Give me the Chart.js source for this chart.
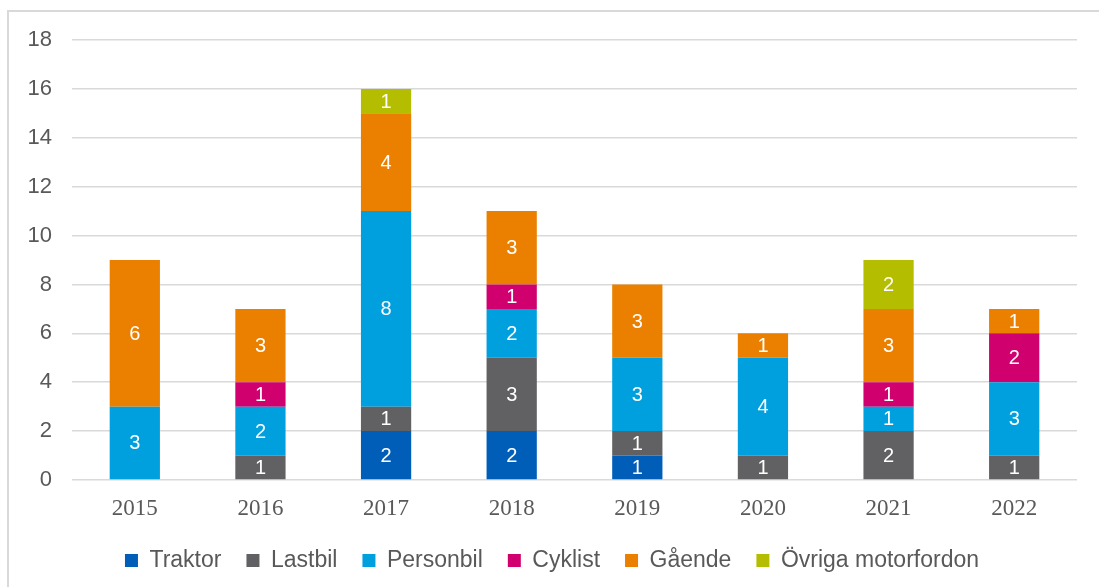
<!DOCTYPE html>
<html>
<head>
<meta charset="utf-8">
<script src="https://cdn.jsdelivr.net/npm/chart.js@4/dist/chart.umd.min.js"></script>
<style>
  html, body { margin: 0; padding: 0; background: #fff; }
  #wrap { width: 1099px; height: 587px; }
</style>
</head>
<body>
<div id="wrap"><canvas id="olyckor" width="1099" height="587"></canvas></div>
<script>
// år och antal per trafikantslag
const years = ['2015', '2016', '2017', '2018', '2019', '2020', '2021', '2022'];
const traktor   = [0, 0, 2, 2, 1, 0, 0, 0];
const lastbil   = [0, 1, 1, 3, 1, 1, 2, 1];
const personbil = [3, 2, 8, 2, 3, 4, 1, 3];
const cyklist   = [0, 1, 0, 1, 0, 0, 1, 2];
const gaende    = [6, 3, 4, 3, 3, 1, 3, 1];
const ovriga    = [0, 0, 1, 0, 0, 0, 2, 0];
const yTicks = [0, 2, 4, 6, 8, 10, 12, 14, 16, 18];

const textGray = '#595959';

// vita siffror mitt i varje stapeldel
const segmentLabels = {
  id: 'segmentLabels',
  afterDatasetsDraw(chart) {
    const ctx = chart.ctx;
    ctx.save();
    ctx.fillStyle = '#ffffff';
    ctx.font = '20px "Liberation Sans", Arial, sans-serif';
    ctx.textAlign = 'center';
    ctx.textBaseline = 'middle';
    chart.data.datasets.forEach((ds, i) => {
      const meta = chart.getDatasetMeta(i);
      if (meta.hidden) return;
      meta.data.forEach((bar, j) => {
        const v = ds.data[j];
        if (!v) return;
        ctx.fillText(String(v), bar.x, (bar.y + bar.base) / 2 + 1);
      });
    });
    ctx.restore();
  }
};

// ljusgrå ram runt diagrammet
const frame = {
  id: 'frame',
  beforeDraw(chart) {
    const ctx = chart.ctx;
    ctx.save();
    ctx.strokeStyle = '#d9d9d9';
    ctx.lineWidth = 2;
    ctx.strokeRect(8, 11, 2000, 2000);
    ctx.restore();
  }
};

const el = document.getElementById('olyckor');

new Chart(el, {
  type: 'bar',
  data: {
    labels: years,
    datasets: [
      { label: 'Traktor', data: traktor, backgroundColor: '#005EB8' },
      { label: 'Lastbil', data: lastbil, backgroundColor: '#616163' },
      { label: 'Personbil', data: personbil, backgroundColor: '#00A0DF' },
      { label: 'Cyklist', data: cyklist, backgroundColor: '#D1006F' },
      { label: 'Gående', data: gaende, backgroundColor: '#EB8000' },
      { label: 'Övriga motorfordon', data: ovriga, backgroundColor: '#B5BD00' }
    ]
  },
  options: {
    responsive: false,
    animation: false,
    layout: { padding: { left: 27, right: 22, top: 40, bottom: 5 } },
    datasets: {
      bar: { barPercentage: 0.4, categoryPercentage: 1.0 }
    },
    scales: {
      x: {
        stacked: true,
        grid: { display: false },
        border: { display: false },
        ticks: {
          color: textGray,
          padding: 7,
          font: { family: '"Liberation Serif", "Times New Roman", serif', size: 23 }
        },
        afterFit(scale) { scale.height = 44; }
      },
      y: {
        stacked: true,
        min: 0,
        max: 18,
        afterBuildTicks(scale) { scale.ticks = yTicks.map(v => ({ value: v })); },
        grid: { color: '#d9d9d9', lineWidth: 1.5, drawTicks: false },
        border: { display: false },
        ticks: {
          color: textGray,
          padding: 20,
          font: { family: '"Liberation Sans", Arial, sans-serif', size: 22 }
        },
        afterFit(scale) { scale.width = 45; }
      }
    },
    plugins: {
      legend: {
        position: 'bottom',
        labels: {
          color: textGray,
          boxWidth: 13,
          boxHeight: 13,
          padding: 25,
          font: { family: '"Liberation Sans", Arial, sans-serif', size: 23 }
        }
      },
      tooltip: { enabled: false }
    }
  },
  plugins: [segmentLabels, frame]
});
</script>
</body>
</html>
